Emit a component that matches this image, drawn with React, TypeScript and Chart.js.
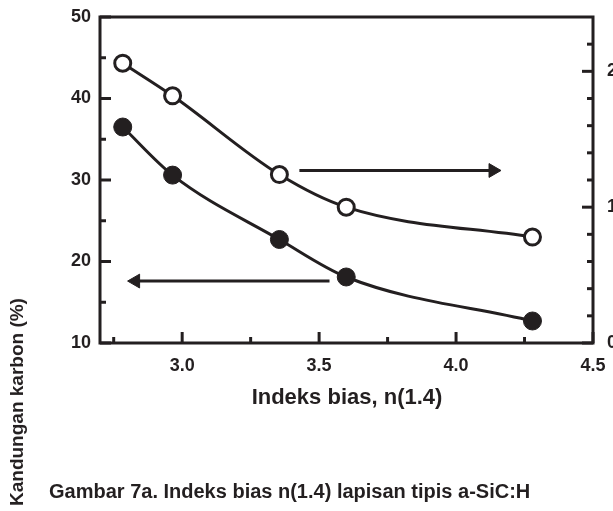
import React, { useEffect, useRef } from 'react';
import { Chart, registerables } from 'chart.js';

Chart.register(...registerables);

// ---- data ----
const refractiveIndex = [2.783, 2.965, 3.355, 3.599, 4.279];
const leftValues = [36.5, 30.6, 22.7, 18.1, 12.7]; // filled markers, left axis
const rightValues = [2.06, 1.82, 1.24, 1.0, 0.78]; // open markers, right axis

// arrows (axis units)
const rightArrowX = [3.428, 4.135];
const rightArrowLevel = 1.27;
const leftArrowX = [2.83, 3.538];
const leftArrowLevel = 17.6;

// ticks
const xMajorTicks = [3.0, 3.5, 4.0, 4.5];
const xTickLabels = ['3.0', '3.5', '4.0', '4.5'];
const xMinorTicks = [2.75, 3.25, 3.75, 4.25];
const leftMajorTicks = [10, 20, 30, 40, 50];
const leftTickLabels = ['10', '20', '30', '40', '50'];
const leftMinorTicks = [15, 25, 35, 45];
const rightMajorTicks = [0, 1, 2];
const rightTickLabels = ['0', '1', '2'];
const rightMinorTicks = [0.2, 0.4, 0.6, 0.8, 1.2, 1.4, 1.6, 1.8, 2.2];

const xTitle = 'Indeks bias, n(1.4)';
const yTitle = 'Kandungan karbon (%)';
const caption = 'Gambar 7a. Indeks bias n(1.4) lapisan tipis a-SiC:H';

const INK = '#231f20';
const FONT = '"Liberation Sans", Arial, sans-serif';

function tickSetter(major: number[], minor: number[]) {
  return (scale: any) => {
    const all = [...major, ...minor].sort((a, b) => a - b);
    scale.ticks = all.map((v) => ({ value: v }));
  };
}

function labeler(major: number[], labels: string[]) {
  return (value: any) => {
    const i = major.findIndex((m) => Math.abs(m - Number(value)) < 1e-9);
    return i >= 0 ? labels[i] : '';
  };
}

const frameTicks = {
  id: 'frameTicks',
  beforeDatasetsDraw(chart: any) {
    const { ctx, chartArea: a, scales } = chart;
    ctx.save();
    ctx.strokeStyle = INK;
    ctx.lineWidth = 3;
    ctx.lineCap = 'butt';
    ctx.strokeRect(a.left, a.top, a.right - a.left, a.bottom - a.top);
    const draw = (x1: number, y1: number, x2: number, y2: number) => {
      ctx.beginPath();
      ctx.moveTo(x1, y1);
      ctx.lineTo(x2, y2);
      ctx.stroke();
    };
    const MAJ = 11;
    const MIN = 6;
    xMajorTicks.forEach((v) => {
      const p = scales.x.getPixelForValue(v);
      draw(p, a.bottom, p, a.bottom - MAJ);
    });
    xMinorTicks.forEach((v) => {
      const p = scales.x.getPixelForValue(v);
      draw(p, a.bottom, p, a.bottom - MIN);
    });
    leftMajorTicks.forEach((v) => {
      const p = scales.yL.getPixelForValue(v);
      draw(a.left, p, a.left + MAJ, p);
    });
    leftMinorTicks.forEach((v) => {
      const p = scales.yL.getPixelForValue(v);
      draw(a.left, p, a.left + MIN, p);
    });
    rightMajorTicks.forEach((v) => {
      const p = scales.yR.getPixelForValue(v);
      draw(a.right, p, a.right - MAJ, p);
    });
    rightMinorTicks.forEach((v) => {
      const p = scales.yR.getPixelForValue(v);
      draw(a.right, p, a.right - MIN, p);
    });
    // right-axis tick labels
    ctx.fillStyle = INK;
    ctx.font = `bold 18px ${FONT}`;
    ctx.textAlign = 'left';
    ctx.textBaseline = 'middle';
    rightMajorTicks.forEach((v, i) => {
      const p = scales.yR.getPixelForValue(v);
      ctx.fillText(rightTickLabels[i], a.right + 14, p);
    });
    ctx.restore();
  },
};

export default function App() {
  const canvasRef = useRef<HTMLCanvasElement | null>(null);

  useEffect(() => {
    if (!canvasRef.current) return;
    const tickFont = { family: FONT, size: 18, weight: 'bold' as const };
    const chart = new Chart(canvasRef.current, {
      type: 'line',
      data: {
        datasets: [
          {
            data: refractiveIndex.map((x, i) => ({ x, y: leftValues[i] })),
            yAxisID: 'yL',
            borderColor: INK,
            backgroundColor: INK,
            borderWidth: 3,
            pointRadius: 9,
            pointStyle: 'circle',
            pointBackgroundColor: INK,
            pointBorderColor: INK,
            pointBorderWidth: 1,
            cubicInterpolationMode: 'monotone',
          },
          {
            data: refractiveIndex.map((x, i) => ({ x, y: rightValues[i] })),
            yAxisID: 'yR',
            borderColor: INK,
            backgroundColor: '#ffffff',
            borderWidth: 3,
            pointRadius: 8,
            pointStyle: 'circle',
            pointBackgroundColor: '#ffffff',
            pointBorderColor: INK,
            pointBorderWidth: 3,
            cubicInterpolationMode: 'monotone',
          },
          {
            data: rightArrowX.map((x) => ({ x, y: rightArrowLevel })),
            yAxisID: 'yR',
            borderColor: INK,
            borderWidth: 3,
            pointStyle: 'triangle',
            pointRadius: [0, 8],
            pointRotation: [0, 90],
            pointBackgroundColor: INK,
            pointBorderColor: INK,
            pointBorderWidth: 1,
          },
          {
            data: leftArrowX.map((x) => ({ x, y: leftArrowLevel })),
            yAxisID: 'yL',
            borderColor: INK,
            borderWidth: 3,
            pointStyle: 'triangle',
            pointRadius: [8, 0],
            pointRotation: [-90, 0],
            pointBackgroundColor: INK,
            pointBorderColor: INK,
            pointBorderWidth: 1,
          },
        ],
      },
      options: {
        responsive: false,
        animation: false,
        devicePixelRatio: 1,
        layout: { padding: { top: 17, left: 0, right: 20, bottom: 0 } },
        plugins: {
          legend: { display: false },
          tooltip: { enabled: false },
        },
        scales: {
          x: {
            type: 'linear',
            position: 'bottom',
            min: 2.7,
            max: 4.5,
            grid: { display: false, drawTicks: false },
            border: { display: false },
            afterBuildTicks: tickSetter(xMajorTicks, xMinorTicks),
            afterFit: (s: any) => {
              s.height = 168;
              s.paddingLeft = 0;
              s.paddingRight = 0;
            },
            ticks: {
              autoSkip: false,
              maxRotation: 0,
              padding: 12,
              color: INK,
              font: tickFont,
              callback: labeler(xMajorTicks, xTickLabels),
            },
          },
          yL: {
            type: 'linear',
            position: 'left',
            min: 10,
            max: 50,
            grid: { display: false, drawTicks: false },
            border: { display: false },
            afterBuildTicks: tickSetter(leftMajorTicks, leftMinorTicks),
            afterFit: (s: any) => {
              s.width = 100;
              s.paddingTop = 0;
              s.paddingBottom = 0;
            },
            ticks: {
              autoSkip: false,
              padding: 9,
              color: INK,
              font: tickFont,
              callback: labeler(leftMajorTicks, leftTickLabels),
            },
          },
          yR: {
            type: 'linear',
            position: 'right',
            min: 0,
            max: 2.4,
            grid: { display: false, drawTicks: false },
            border: { display: false },
            afterBuildTicks: tickSetter(rightMajorTicks, rightMinorTicks),
            afterFit: (s: any) => {
              s.width = 0;
              s.paddingTop = 0;
              s.paddingBottom = 0;
            },
            ticks: { display: false },
          },
        },
      },
      plugins: [frameTicks],
    } as any);
    return () => chart.destroy();
  }, []);

  const textStyle: React.CSSProperties = {
    position: 'absolute',
    fontFamily: FONT,
    fontWeight: 'bold',
    color: INK,
    whiteSpace: 'nowrap',
  };

  return (
    <div style={{ position: 'absolute', left: 0, top: 0, width: 613, height: 511, overflow: 'hidden', background: '#fff' }}>
      <canvas ref={canvasRef} width={613} height={511} style={{ position: 'absolute', left: 0, top: 0, width: 613, height: 511 }} />
      <div style={{ ...textStyle, left: 347, top: 384, fontSize: 22, transform: 'translateX(-50%)' }}>{xTitle}</div>
      <div
        style={{
          ...textStyle,
          left: 17,
          top: 402,
          fontSize: 19,
          transform: 'translate(-50%, -50%) rotate(-90deg)',
        }}
      >
        {yTitle}
      </div>
      <div style={{ ...textStyle, left: 49, top: 480, fontSize: 20 }}>{caption}</div>
    </div>
  );
}
